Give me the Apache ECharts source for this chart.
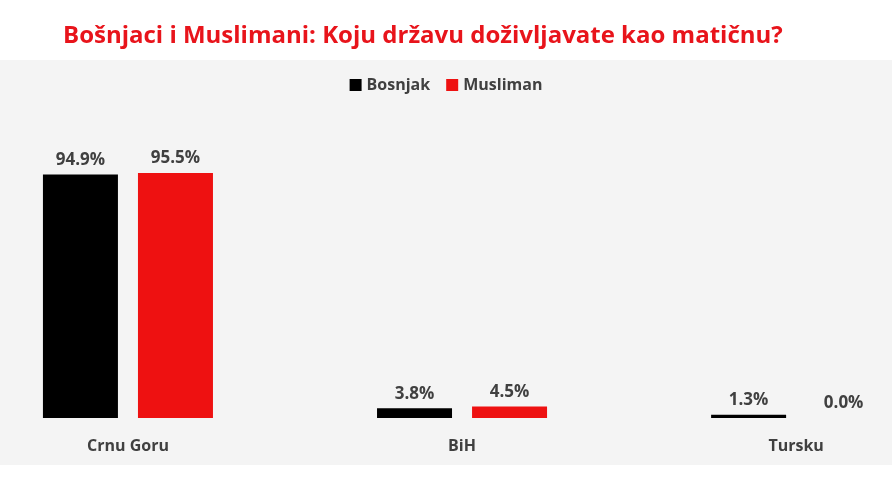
<!DOCTYPE html>
<html>
<head>
<meta charset="utf-8">
<script src="https://cdn.jsdelivr.net/npm/echarts@6/dist/echarts.min.js"></script>
<style>html,body{margin:0;padding:0;background:#fff}#c{width:892px;height:485px}</style>
</head>
<body>
<div id="c"></div>
<script>
const categories = ['Crnu Goru', 'BiH', 'Tursku'];
const bosnjak = [94.9, 3.8, 1.3];
const musliman = [95.5, 4.5, 0.0];

const chart = echarts.init(document.getElementById('c'));
const labelStyle = {
    show: true,
    position: 'top',
    distance: 6,
    fontFamily: 'Open Sans',
    fontWeight: 'bold',
    fontSize: 17,
    color: '#404040',
    formatter: p => p.value[1].toFixed(1) + '%'
};
chart.setOption({
    animation: false,
    graphic: [{
        type: 'rect',
        z: -10,
        shape: { x: 0, y: 60, width: 892, height: 405 },
        style: { fill: '#f4f4f4' }
    }],
    title: {
        text: 'Bošnjaci i Muslimani: Koju državu doživljavate kao matičnu?',
        left: 58,
        top: 19,
        textStyle: { color: '#e8141b', fontFamily: 'Open Sans', fontWeight: 'bold', fontSize: 24 }
    },
    legend: {
        top: 72,
        left: 'center',
        itemWidth: 12,
        itemHeight: 12,
        itemGap: 16,
        icon: 'rect',
        textStyle: { fontFamily: 'Open Sans', fontWeight: 'bold', fontSize: 16, color: '#404040' }
    },
    grid: { left: 0, right: 0, top: 161.5, bottom: 67 },
    xAxis: {
        type: 'value',
        min: -0.383,
        max: 2.287,
        splitLine: { show: false },
        axisLine: { show: false },
        axisTick: { show: false },
        axisLabel: {
            customValues: [0, 1, 2],
            margin: 20,
            formatter: v => categories[Math.round(v)] || '',
            fontFamily: 'Open Sans', fontWeight: 'bold', fontSize: 16, color: '#404040'
        }
    },
    yAxis: { type: 'value', min: 0, max: 100, show: false },
    series: [
        { name: 'Bosnjak', type: 'bar', data: bosnjak.map((v, i) => [i, v]), barWidth: 75, barGap: '26.7%',
          itemStyle: { color: '#000000' }, label: labelStyle },
        { name: 'Musliman', type: 'bar', data: musliman.map((v, i) => [i, v]), barWidth: 75,
          itemStyle: { color: '#ee1111' }, label: labelStyle }
    ]
});
</script>
</body>
</html>
